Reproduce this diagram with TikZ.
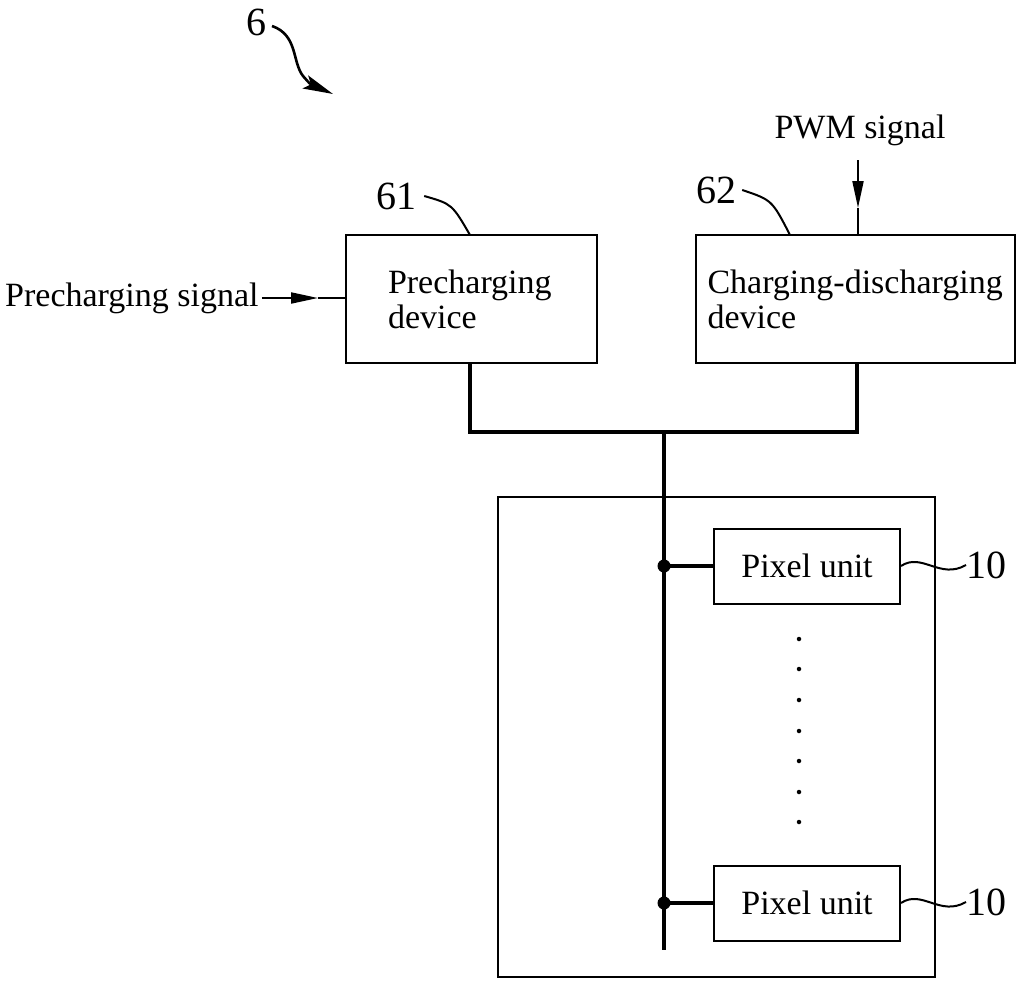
\documentclass[tikz,border=0pt]{standalone}
\usepackage{fontspec}
\setmainfont{Liberation Serif}
\usetikzlibrary{arrows.meta}
\begin{document}
\begin{tikzpicture}[x=1pt,y=-1pt,
  txt/.style={font=\fontsize{34}{35}\selectfont, inner sep=0pt},
  num/.style={font=\fontsize{40}{40}\selectfont, inner sep=0pt},
  blk/.style={draw, line width=2pt, font=\fontsize{34}{35}\selectfont, align=left, inner sep=0pt},
  thin/.style={line width=2pt},
  thick/.style={line width=4pt},
  tip/.style={-{Triangle[length=27pt,width=11pt]}},
  dotf/.style={circle, fill, inner sep=0pt, minimum size=#1}
]
\useasboundingbox (0,0) rectangle (1020,982);

% label 6 with squiggle arrow
\node[num] (n6) at (256,22) {6};
\coordinate (s6a) at (272,26);
\coordinate (s6b) at (333,94);
\draw[line width=2.6pt, -{Stealth[length=30pt,width=14pt,inset=6pt]}] (s6a) .. controls (298,35) and (292,62) .. (303,76) .. controls (310,84) .. (s6b);

% device boxes
\node[blk, minimum width=251pt, minimum height=128pt, text width=167pt] (b61) at (471.5,299) {Precharging\\device};
\node[blk, minimum width=319pt, minimum height=128pt, text width=296pt] (b62) at (855.5,299) {\mbox{Charging-discharging}\\device};

\node[num] (n61) at (396,196) {61};
\node[num] (n62) at (716,190) {62};
\coordinate (l61) at (470,235);
\coordinate (l62) at (790,235);
\draw[thin] (n61.east) ++(8,0) coordinate (l61s) .. controls (452,204) .. (l61);
\draw[thin] (n62.east) ++(6,0) coordinate (l62s) .. controls (772,200) .. (l62);

% input signals
\node[txt, anchor=west] (pre) at (5,298) {Precharging signal};
\node[txt] (pwm) at (860,130) {PWM signal};
\coordinate (pwmt) at (858,160);
\coordinate (pwmm) at (858,208);
\draw[thin, tip] (pwmt) -- (pwmm);
\draw[thin] (pwmm) -- (b62.north -| pwmm);
\coordinate (prem) at (318,298);
\draw[thin, tip] (pre.east) ++(3,0) -- (prem);
\draw[thin] (prem) -- (b61.west |- prem);

% bus
\coordinate (d61) at (470,363);
\coordinate (d62) at (857,363);
\coordinate (j) at (664,432);
\coordinate (busend) at (664,950);
\draw[thick] (d61) -- (470,432) -- (857,432) -- (d62);
\draw[thick] (j) -- (busend);

% outer panel
\node[draw, line width=2pt, minimum width=437pt, minimum height=480pt, inner sep=0pt] (panel) at (716.5,737) {};

% pixel units
\node[blk, minimum width=186pt, minimum height=75pt, align=center] (p1) at (807,566) {Pixel unit};
\node[blk, minimum width=186pt, minimum height=75pt, align=center] (p2) at (807,903) {Pixel unit};
\node[dotf=13pt] (j1) at (664,566) {};
\node[dotf=13pt] (j2) at (664,903) {};
\draw[thick] (j1.center) -- (p1.west);
\draw[thick] (j2.center) -- (p2.west);

% labels 10
\node[num, anchor=west] (n10a) at (966,565) {10};
\node[num, anchor=west] (n10b) at (966,902) {10};
\draw[thin] (p1.east) .. controls (922,552) and (940,580) .. (n10a.west);
\draw[thin] (p2.east) .. controls (922,889) and (940,917) .. (n10b.west);

% vertical dots
\foreach \yy [count=\k] in {639,669,700,731,761,792,822}
  \node[dotf=4.5pt] (vd\k) at (799,\yy) {};
\end{tikzpicture}
\end{document}
